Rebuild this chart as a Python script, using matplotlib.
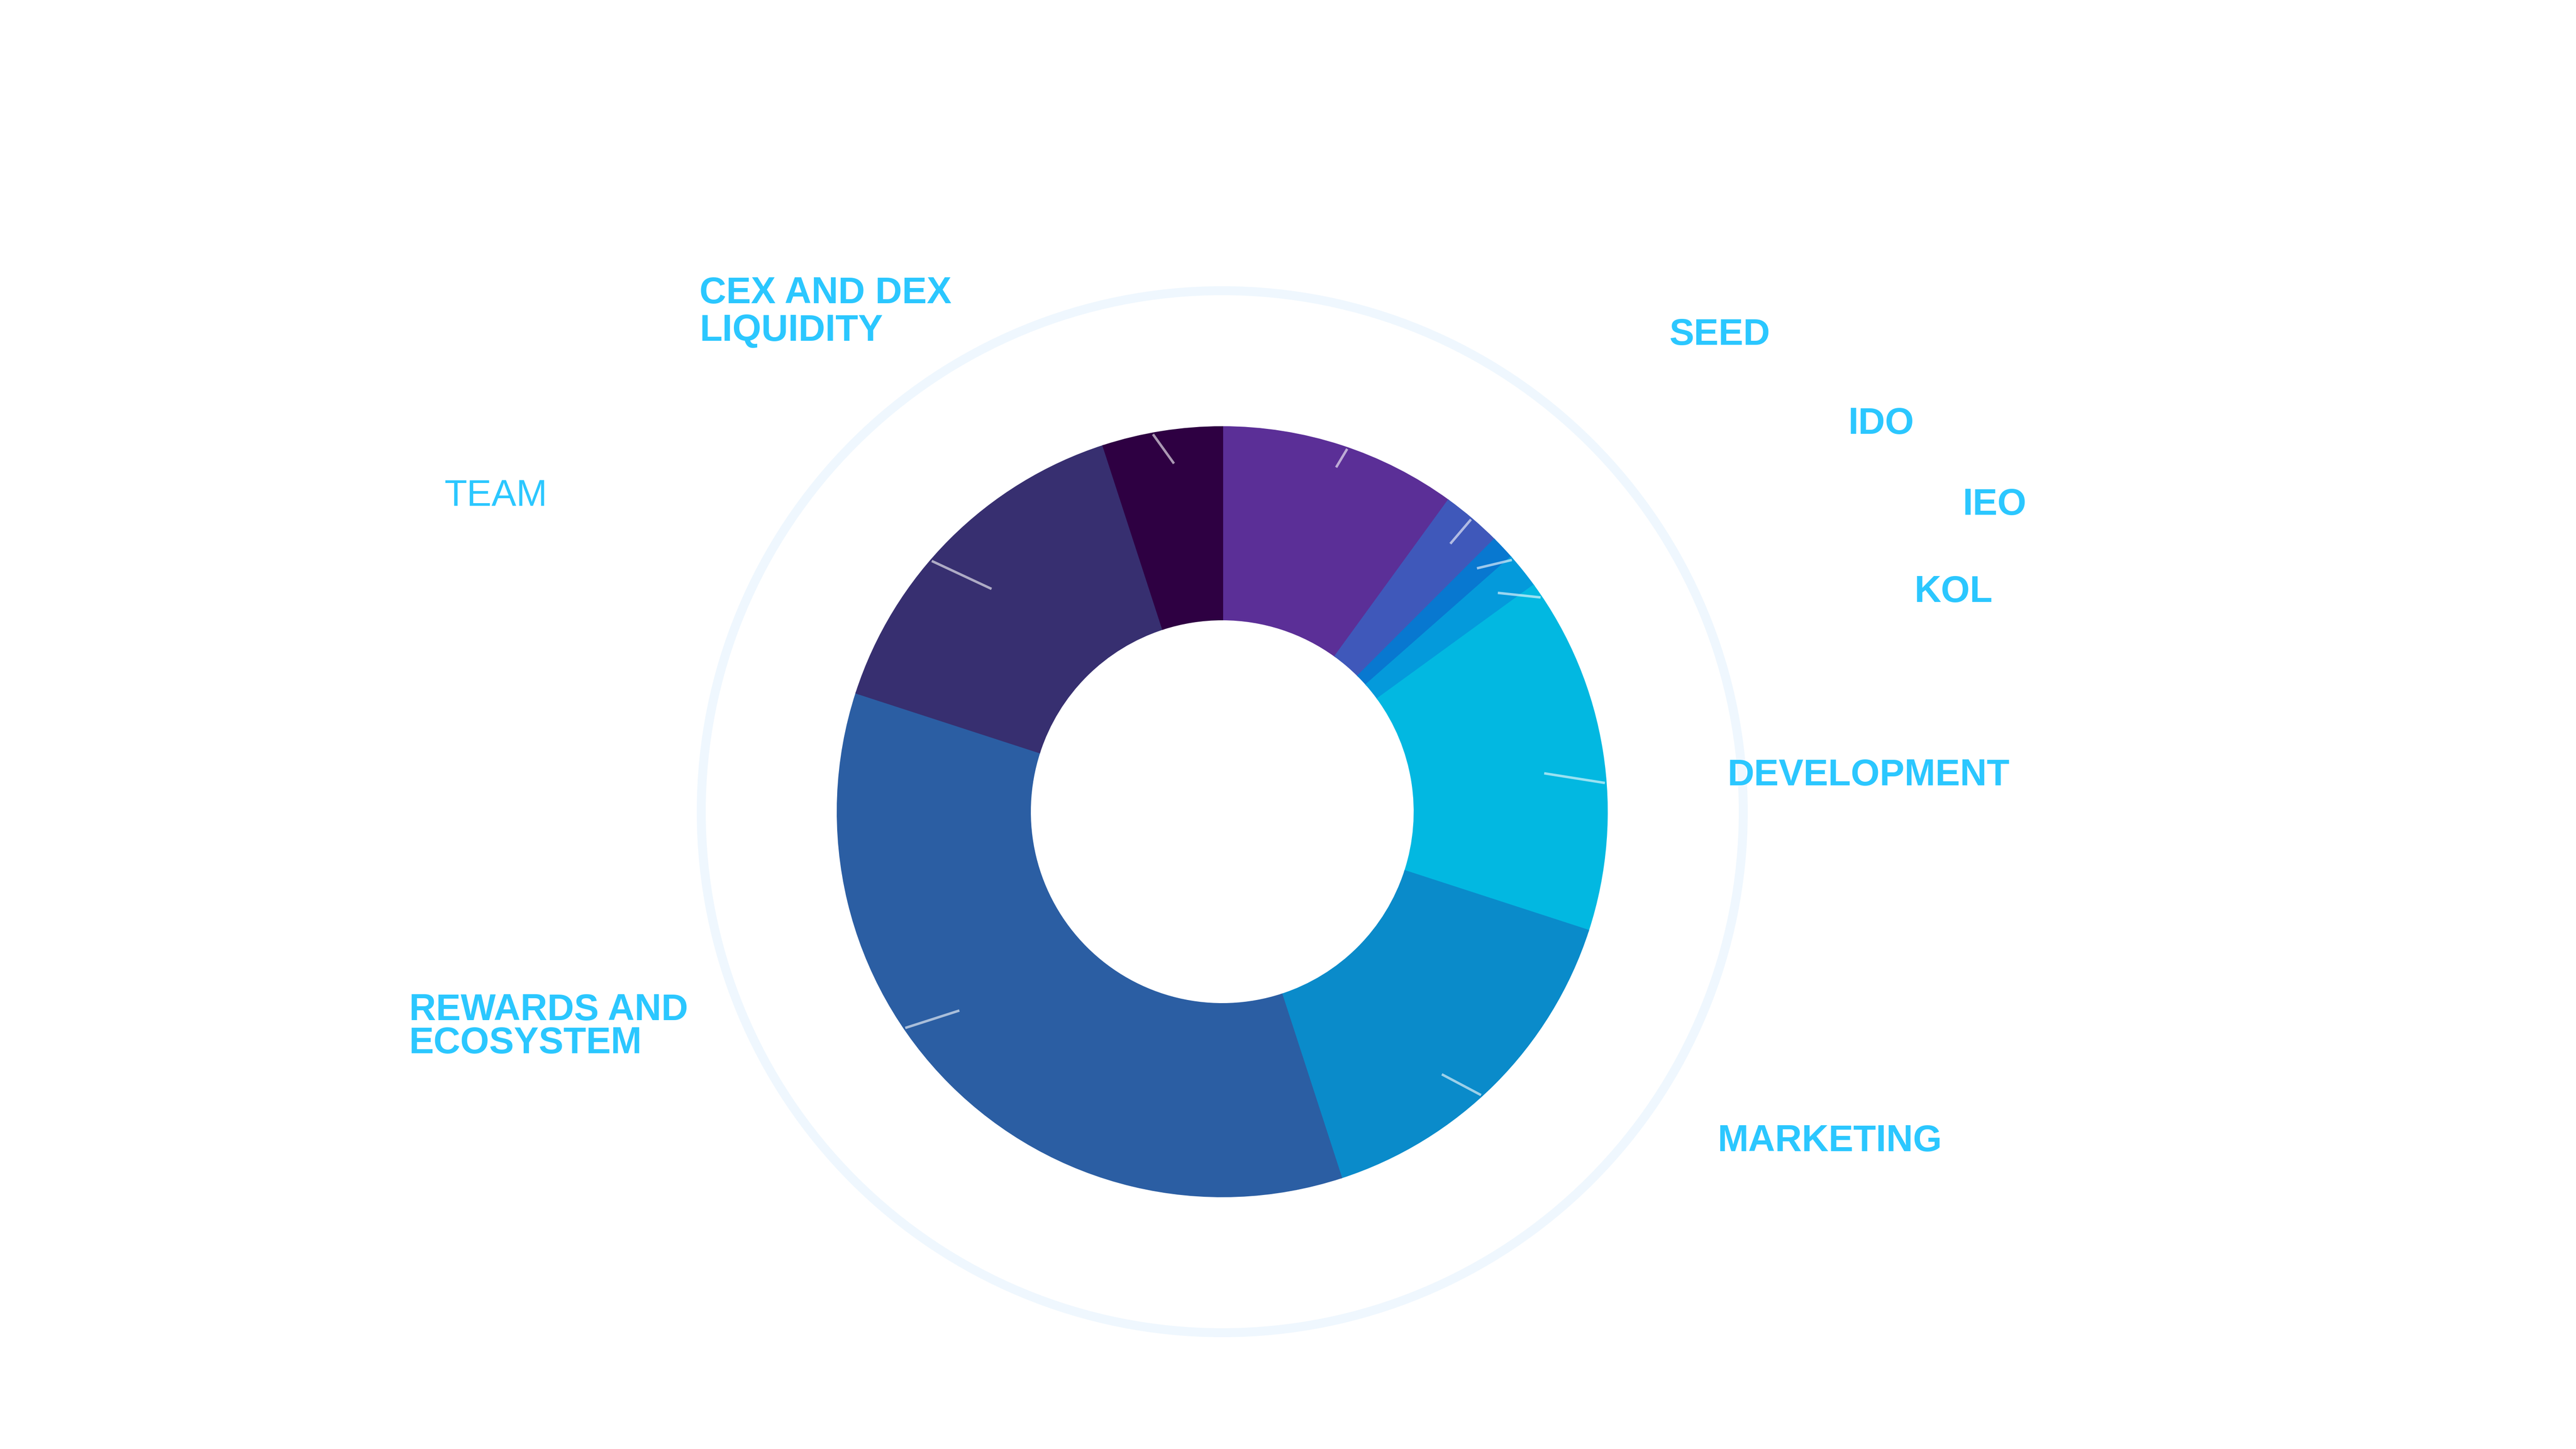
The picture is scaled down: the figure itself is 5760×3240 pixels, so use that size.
import numpy as np
import matplotlib
matplotlib.use("Agg")
import matplotlib.pyplot as plt
from matplotlib.patches import Circle

# token allocation, clockwise from 12 o'clock
labels = ["SEED", "IDO", "IEO", "KOL", "DEVELOPMENT", "MARKETING",
          "REWARDS AND\nECOSYSTEM", "TEAM", "CEX AND DEX\nLIQUIDITY"]
shares = [10, 2.5, 1, 1.5, 15, 15, 35, 15, 5]
colors = ["#5B2F97", "#3F58BA", "#0878D0", "#049ADB", "#02B8E1",
          "#0A8BCA", "#2B5EA3", "#372F70", "#2E0042"]
weights = ["bold", "bold", "bold", "bold", "bold", "bold", "bold", "normal", "bold"]

# label anchors in pixels (left edge, baseline of first line), line gap
label_pos = [(3733, 771), (4132, 970), (4389, 1151), (4280, 1346),
             (3862, 1756), (3840, 2574), (915, 2281), (993, 1131), (1564, 678)]
line_gap = [0, 0, 0, 0, 0, 0, 74, 0, 84]

# short leader ticks: (outer angle offset, inner angle offset, inner radius frac)
leader = [(1.0, 0.3, 0.943), (-0.1, -0.1, 0.915), (2.2, -0.5, 0.916),
          (4.75, 0.25, 0.915), (4.7, 2.2, 0.843), (2.6, 5.1, 0.89),
          (10.7, 7.9, 0.857), (-4.2, -1.0, 0.834), (-1.4, 1.1, 0.914)]

W, H = 5760, 3240
LABEL_COLOR = "#2BC7FF"

fig = plt.figure(figsize=(16, 9), dpi=360)
ax = fig.add_axes([0, 0, 1, 1])

cx, cy = 2733, H - 1815
R = 860

# faint outer ring
ax.add_patch(Circle((cx, cy), 1165, fill=False, ec="#EFF7FE", lw=4.0, zorder=0))

wedges, _ = ax.pie(shares, colors=colors, startangle=90, counterclock=False,
                   radius=R, center=(cx, cy),
                   wedgeprops=dict(width=R / 2, linewidth=0.8))
for w in wedges:
    w.set_edgecolor(w.get_facecolor())

def polar(a, r):
    a = np.radians(a)
    return cx + r * np.sin(a), cy + r * np.cos(a)

for w, (o_off, i_off, r_in) in zip(wedges, leader):
    mid = (90 - (w.theta1 + w.theta2) / 2) % 360
    x0, y0 = polar(mid + o_off, R - 2)
    x1, y1 = polar(mid + i_off, R * r_in)
    ax.plot([x0, x1], [y0, y1], color="white", alpha=0.6, lw=1.1,
            solid_capstyle="butt", zorder=3)

for lab, (x, y), gap, wt in zip(labels, label_pos, line_gap, weights):
    for k, line in enumerate(lab.split("\n")):
        ax.text(x, H - (y + k * gap), line, fontsize=16.6, fontweight=wt,
                color=LABEL_COLOR, family=["Liberation Sans", "DejaVu Sans"],
                ha="left", va="baseline")

ax.set_xlim(0, W)
ax.set_ylim(0, H)
ax.set_aspect("equal")
ax.axis("off")

fig.savefig("out.png", dpi=360, facecolor="white")
